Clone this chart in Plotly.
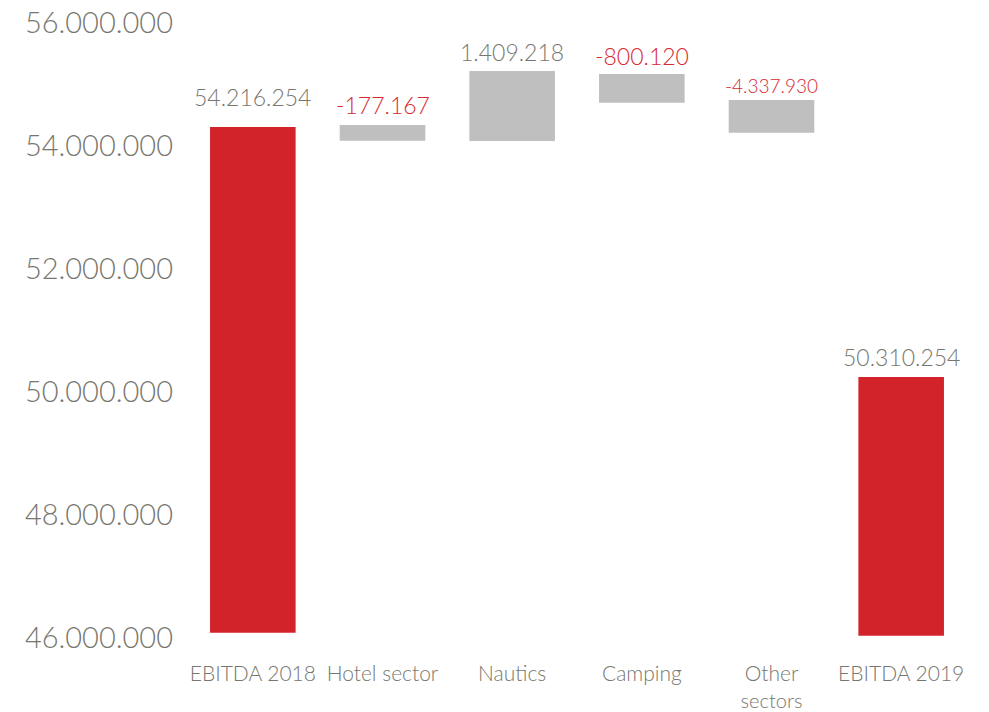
import plotly.graph_objects as go

categories = ["EBITDA 2018", "Hotel sector", "Nautics", "Camping",
              "Other<br><span style='font-size:20px'>sectors</span>", "EBITDA 2019"]
bar_base = [46086000, 54086000, 54081000, 54704000, 54216000, 46037000]
bar_top = [54309000, 54341000, 55220000, 55171000, 54748000, 50244000]
label_values = [54216254, -177167, 1409218, -800120, -4337930, 50310254]
is_total = [True, False, False, False, False, True]

RED = "#D2232A"
GRAY_BAR = "#BFBFBF"
TEXT_GRAY = "#77776F"
TEXT_RED = "#D62A31"
FONT = "Lato"
W = 300

bar_colors = [RED if t else GRAY_BAR for t in is_total]
heights = [t - b for t, b in zip(bar_top, bar_base)]

fig = go.Figure(go.Bar(
    x=categories, y=heights, base=bar_base,
    marker=dict(color=bar_colors, line=dict(width=0)),
    width=0.66, hoverinfo="skip"
))

label_shift = [30, 20, 19, 18, 15, 20]
label_size = [23, 23, 23, 23, 19, 23]

for cat, top, val, sh, sz in zip(categories, bar_top, label_values, label_shift, label_size):
    txt = f"{val:,}".replace(",", ".")
    fig.add_annotation(
        x=cat, y=top, text=txt, showarrow=False, yanchor="middle", yshift=sh,
        font=dict(family=FONT, size=sz, weight=W, color=TEXT_RED if val < 0 else TEXT_GRAY)
    )

fig.update_layout(
    width=989, height=712,
    margin=dict(l=188, r=23, t=20, b=71),
    paper_bgcolor="white", plot_bgcolor="white",
    showlegend=False,
    font=dict(family=FONT, color=TEXT_GRAY, weight=W),
    bargap=0.34,
)
fig.update_xaxes(
    showgrid=False, zeroline=False, showline=False, ticks="", automargin=False,
    tickfont=dict(family=FONT, size=21, weight=W, color=TEXT_GRAY),
    ticklabelstandoff=18, range=[-0.5, 5.5]
)
fig.update_yaxes(
    range=[45950000, 56050000], tickvals=[46000000, 48000000, 50000000, 52000000, 54000000, 56000000],
    ticktext=["46.000.000", "48.000.000", "50.000.000", "52.000.000", "54.000.000", "56.000.000"],
    showgrid=False, zeroline=False, showline=False, ticks="", automargin=False,
    tickfont=dict(family=FONT, size=29, weight=W, color=TEXT_GRAY),
    ticklabelstandoff=14
)

fig.write_html("out.html")
